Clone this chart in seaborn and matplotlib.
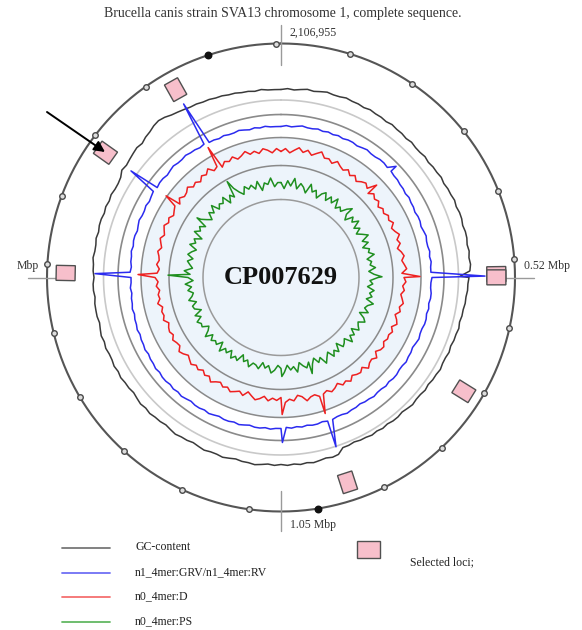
import numpy as np
import pandas as pd
import matplotlib
matplotlib.use("Agg")
import matplotlib.pyplot as plt
import seaborn as sns

# ---------------------------------------------------------------- data
GENOME_BP = 2106955
GENOME_MB = GENOME_BP / 1e6
ACCESSION = "CP007629"
TITLE = "Brucella canis strain SVA13 chromosome 1, complete sequence."
QUARTER_LABELS = ["2,106,955", "0.52 Mbp", "1.05 Mbp", "Mbp"]

# track scores, one window every 1/180 of the chromosome
gc_content = [10, 11, 10, 11, 12, 11, 12, 13, 12, 12, 13,
              12, 12, 11, 12, 11, 11, 10, 11, 10, 10,
              9, 10, 9, 9, 10, 9, 10, 10, 11, 10,
              11, 11, 12, 11, 12, 12, 11, 12, 12, 11,
              12, 11, 12, 11, 10, 9, 9, 8, 8, 7,
              7, 6, 7, 6, 6, 5, 6, 5, 5, 6,
              5, 5, 4, 5, 4, 4, 5, 4, 3, 4,
              4, 3, 4, 3, 4, 3, 3, 2, 3, 3,
              8, 9, 8, 9, 10, 9, 10, 9, 10, 9,
              10, 9, 10, 11, 10, 10, 9, 10, 11, 10,
              10, 11, 10, 9, 10, 10, 11, 10, 9, 10,
              10, 11, 10, 11, 10, 9, 10, 10, 11, 10,
              11, 10, 10, 11, 10, 11, 10, 9, 10, 10,
              10, 9, 10, 10, 9, 10, 10, 11, 10, 10,
              11, 10, 11, 11, 10, 11, 10, 11, 10, 10,
              11, 14, 13, 14, 15, 16, 15, 17, 18, 20,
              21, 20, 18, 17, 16, 15, 15, 14, 14, 13,
              13, 12, 12, 11, 11, 10, 11, 10, 10]

n1_4mer_grv_rv = [1, 2, 1, 2, 3, 2, 2, 3, 2, 3, 2,
                  3, 2, 3, 3, 2, 3, 4, 3, 3, 4,
                  4, 3, 3, 2, 2, 1, 1, 0, 1, 0,
                  0, -1, 0, 0, -1, 0, 1, 0, 0, 1,
                  0, 1, 0, 0, 1, 0, 0, 1, 1, 0,
                  1, 0, 1, 1, 0, 0, 1, 0, -1, 0,
                  0, 1, 0, 0, 1, 1, 0, 1, 0, 0,
                  1, 0, 0, -1, 0, 0, 1, 0, 0, 1,
                  1, 0, 1, 1, 0, 1, 0, 1, 0, 1,
                  1, 2, 1, 2, 2, 1, 2, 3, 2, 3,
                  3, 2, 3, 4, 3, 4, 4, 3, 4, 5,
                  4, 5, 4, 5, 5, 4, 5, 4, 4, 3,
                  4, 3, 3, 2, 3, 2, 2, 1, 2, 1,
                  1, 0, 1, 0, 0, 1, 0, 1, 1, 2,
                  1, 2, 2, 1, 2, 3, 2, 2, 3, 2,
                  3, 4, 3, 4, 4, 3, 4, 5, 4, 4,
                  5, 4, 4, 3, 4, 3, 3, 2, 3, 2,
                  2, 3, 2, 1, 2, 1, 2, 1, 1]

n0_4mer_d = [3, 6, 2, 5, 8, 4, 7, 3, 6, 9, 4,
             5, 2, 6, 3, 1, 4, 0, 3, -1, 2,
             4, 1, -2, 2, -1, 1, -3, 0, -2, 1,
             -1, 2, -2, 0, 3, -1, 1, -3, 0, 2,
             -1, 1, 3, -2, 0, 2, -1, 1, -2, 0,
             2, -1, 1, -3, 0, 2, -2, 1, -1, 0,
             -2, 1, 0, -3, 2, -1, 0, 3, -2, 1,
             0, -2, 2, -1, 1, -3, 0, 2, -1, 1,
             2, -1, 0, 3, -2, -4, 1, -1, 2, -3,
             0, -2, 1, -3, 0, 2, -1, -4, 1, -2,
             0, 2, -1, 1, -2, 0, 3, -1, 1, -2,
             1, -1, 2, 0, -2, 1, 3, -1, 0, 2,
             -1, 1, 0, -2, 2, 0, 1, -1, 3, 0,
             1, -1, 2, 0, 3, 1, -1, 2, 0, 1,
             3, 0, 2, 4, 1, 3, 5, 2, 4, 1,
             3, 5, 2, 6, 3, 4, 7, 3, 5, 2,
             6, 4, 8, 3, 5, 2, 6, 4, 7, 3,
             5, 8, 4, 6, 3, 7, 5, 2, 6]

n0_4mer_ps = [4, -2, 6, 1, 9, -1, 5, 2, -3, 7, 0,
              3, -4, 2, 5, -2, 4, -1, 6, -3, 1,
              -2, 4, 0, -5, 3, -1, 5, -3, 2, -4,
              1, 6, -2, 3, -4, 2, 0, 5, -3, 1,
              -1, 4, -3, 2, 6, -2, 1, -4, 3, -1,
              2, -3, 5, 0, -2, 3, -5, 1, 4, -2,
              0, 3, -4, 2, -1, 5, -3, 0, 2, -5,
              3, -1, 4, -3, 1, 6, -2, 2, -4, 1,
              -2, 3, 0, -4, 5, -1, 2, -3, 4, 0,
              -3, 2, 5, -2, 1, -4, 3, 0, -1, 4,
              -2, 1, -5, 3, 0, 4, -3, 2, -1, 5,
              -4, 2, 0, 3, -2, 5, -1, -4, 2, 1,
              4, -2, 3, -5, 1, 2, -3, 4, 0, -2,
              3, -1, 5, -3, 2, 0, 6, -2, 1, 4,
              -1, 5, 2, -2, 6, 1, 4, -3, 7, 2,
              5, 0, 8, 3, -1, 6, 2, 9, 1, 5,
              3, 8, -1, 6, 2, 10, 4, 0, 7, 3,
              6, 1, 8, -2, 5, 3, 9, 0, 4]

# narrow peaks (position in Mbp) and their scores per track
peak_pos_mb = [0.2692, 0.5244, 0.9481, 1.0506, 1.5872, 1.7874, 1.9355]
peak_grv_rv = [10, 54, 28, 15, 36, 34, 49]
peak_d = [10, 16, 20, 14, 20, 18, 26]
peak_ps = [8, 10, 10, 8, 22, 12, 19]
gc_peak_pos_mb = [0.5244]
gc_peak = [1]

# selected loci (Mbp)
loci_mb = [0.5215, 0.5265, 0.7134, 0.9481, 1.5872, 1.7874, 1.9355]

# ruler marks every 100 kb; full Mbp marks drawn solid
ruler_mb = [k / 10 for k in range(1, 22)]
major_mb = [1.0, 2.0]

# ---------------------------------------------------------------- layout
W, H = 582, 630
CX, CY = 281, 277.5
RMAX = 256

TRACKS = [
    # name, scores, peak positions, peak scores, baseline radius, colour, legend colour
    ("GC-content", gc_content, gc_peak_pos_mb, gc_peak, 178, "#3a3a3a", "#777777"),
    ("n1_4mer:GRV/n1_4mer:RV", n1_4mer_grv_rv, peak_pos_mb, peak_grv_rv, 150, "#2b2bef", "#6f6ff5"),
    ("n0_4mer:D", n0_4mer_d, peak_pos_mb, peak_d, 123, "#ee2020", "#f57070"),
    ("n0_4mer:PS", n0_4mer_ps, peak_pos_mb, peak_ps, 91, "#1f8f1f", "#62b862"),
]

sns.set_theme(style="white")
plt.rcParams["font.family"] = ["Liberation Serif", "DejaVu Serif"]

fig = plt.figure(figsize=(W / 100, H / 100), dpi=100)
fig.patch.set_facecolor("white")

pax = fig.add_axes([(CX - RMAX) / W, (H - CY - RMAX) / H, 2 * RMAX / W, 2 * RMAX / H],
                   projection="polar")
pax.set_theta_zero_location("N")
pax.set_theta_direction(-1)
pax.axis("off")


def to_theta(mb):
    return 2 * np.pi * np.asarray(mb, dtype=float) / GENOME_MB


ring = np.linspace(0, 2 * np.pi, 721)

# pale background of the inner tracks
pax.fill_between(ring, 0, 140, color="#edf4fb", zorder=0, lw=0)

# guide circles
for radius, col, lw in [(234, "#555555", 1.5), (177.5, "#c9c9c9", 1.2), (163, "#8a8a8a", 1.2),
                        (140, "#8a8a8a", 1.1), (112, "#8a8a8a", 1.1), (78, "#9a9a9a", 1.1)]:
    pax.plot(ring, np.full_like(ring, radius), color=col, lw=lw, zorder=1)

# quarter ticks
for q in range(4):
    th = q * np.pi / 2
    pax.plot([th, th], [213, 253], color="#9a9a9a", lw=1.0, zorder=1, clip_on=False)

# tracks
for name, scores, ppos, pvals, base, col, _ in TRACKS:
    win_pos = np.linspace(0, GENOME_MB, len(scores), endpoint=False)
    pos = np.concatenate([win_pos, ppos])
    val = np.concatenate([scores, pvals]).astype(float)
    order = np.argsort(pos)
    df = pd.DataFrame({"pos": pos[order], "score": val[order]})
    df = pd.concat([df, df.iloc[:1].assign(pos=df["pos"].iloc[0] + GENOME_MB)], ignore_index=True)
    df["theta"] = to_theta(df["pos"])
    df["r"] = base + df["score"]
    sns.lineplot(data=df, x="theta", y="r", sort=False, estimator=None, color=col,
                 lw=1.1, ax=pax, legend=False, zorder=3)

# selected loci boxes
for mb in loci_mb:
    th = float(to_theta(mb))
    r1, r2, half_w = 206, 225, 7.5
    ths = [th - half_w / r1, th + half_w / r1, th + half_w / r2, th - half_w / r2]
    pax.fill(ths, [r1, r1, r2, r2], facecolor="#f7bfcb", edgecolor="#505050", lw=1.0, zorder=4)

# ruler marks on the outer circle
ruler = pd.DataFrame({"theta": to_theta(ruler_mb), "r": 234.0,
                      "major": [m in major_mb for m in ruler_mb]})
sns.scatterplot(data=ruler[~ruler["major"]], x="theta", y="r", ax=pax, s=16, marker="o",
                facecolor="#dddddd", edgecolor="#4a4a4a", linewidth=1.0, zorder=5, legend=False)
sns.scatterplot(data=ruler[ruler["major"]], x="theta", y="r", ax=pax, s=22, marker="o",
                color="#111111", edgecolor="#111111", linewidth=1.0, zorder=5, legend=False)

pax.set_ylim(0, RMAX)
pax.axis("off")

# ---------------------------------------------------------------- text overlay
oax = fig.add_axes([0, 0, 1, 1])
oax.set_xlim(0, W)
oax.set_ylim(H, 0)
oax.axis("off")

oax.text(283, 14, TITLE, ha="center", va="center", fontsize=10, color="#333333")
oax.text(290, 33, QUARTER_LABELS[0], ha="left", va="center", fontsize=8.5, color="#333333")
oax.text(524, 266, QUARTER_LABELS[1], ha="left", va="center", fontsize=8.5, color="#333333")
oax.text(290, 525, QUARTER_LABELS[2], ha="left", va="center", fontsize=8.5, color="#333333")
oax.text(39, 266, QUARTER_LABELS[3], ha="right", va="center", fontsize=8.5, color="#333333")
oax.text(CX, CY, ACCESSION, ha="center", va="center", fontsize=19, fontweight="bold",
         color="#111111")

# arrow pointing at one locus
oax.annotate("", xy=(105, 152), xytext=(47, 112),
             arrowprops=dict(arrowstyle="-|>", color="black", lw=1.4,
                             mutation_scale=16, shrinkA=0, shrinkB=0))

# legend
for i, (name, *_rest, leg_col) in enumerate(TRACKS):
    y = 548 + i * 24.7
    oax.plot([62, 110], [y, y], color=leg_col, lw=1.3)
    oax.text(135, y - 1, name, ha="left", va="center", fontsize=8.5, color="#222222")
oax.add_patch(plt.Rectangle((357, 541), 23, 17, facecolor="#f7bfcb", edgecolor="#505050", lw=1.0))
oax.text(410, 562, "Selected loci;", ha="left", va="center", fontsize=8.5, color="#222222")

fig.savefig("out.png", dpi=100, facecolor="white")
